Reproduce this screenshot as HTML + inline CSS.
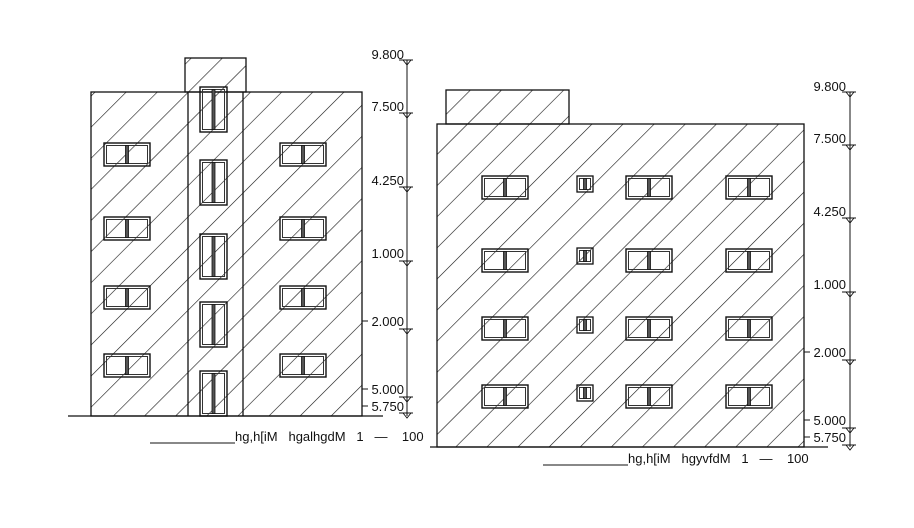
<!DOCTYPE html>
<html><head><meta charset="utf-8"><style>
html,body{margin:0;padding:0;background:#fff;}
svg{display:block}
text{font-family:"Liberation Sans",sans-serif;font-size:13px;fill:#111}
</style></head><body>
<svg width="914" height="528" viewBox="0 0 914 528" xmlns="http://www.w3.org/2000/svg">
<defs>
<pattern id="h" patternUnits="userSpaceOnUse" width="22" height="22" patternTransform="rotate(45)">
<line x1="0" y1="0" x2="0" y2="22" stroke="#111" stroke-width="1.2"/>
</pattern>
<g id="w">
<rect x="0" y="0" width="46" height="23" fill="none" stroke="#111" stroke-width="1.4"/>
<rect x="2.5" y="2.5" width="41" height="18" fill="none" stroke="#333" stroke-width="1"/>
<rect x="21.5" y="2.5" width="3" height="18" fill="#555" stroke="#111" stroke-width="0.8"/>
</g>
<g id="d">
<rect x="0" y="0" width="27" height="45" fill="none" stroke="#111" stroke-width="1.4"/>
<rect x="2.5" y="2.5" width="22" height="40" fill="none" stroke="#333" stroke-width="1"/>
<rect x="12" y="2.5" width="3" height="40" fill="#555" stroke="#111" stroke-width="0.8"/>
</g>
<g id="s">
<rect x="0" y="0" width="16" height="16" fill="none" stroke="#111" stroke-width="1.3"/>
<rect x="2.5" y="2.5" width="11" height="11" fill="none" stroke="#333"/>
<rect x="6.5" y="2.5" width="3" height="11" fill="#555" stroke="#111" stroke-width="0.8"/>
</g>
<g id="tk">
<line x1="-8" y1="0" x2="6" y2="0" stroke="#111"/>
<path d="M-4,0 L4,0 L0,5 Z" fill="none" stroke="#111" stroke-width="0.9"/>
</g>
</defs>

<!-- LEFT BUILDING -->
<g stroke="#111" stroke-width="1.3">
<rect x="185" y="58" width="61" height="34" fill="url(#h)"/>
<rect x="91" y="92" width="271" height="324" fill="url(#h)"/>
<line x1="188" y1="92" x2="188" y2="416"/>
<line x1="243" y1="92" x2="243" y2="416"/>
<line x1="68" y1="416" x2="383" y2="416"/>
</g>
<use href="#w" x="104" y="143"/><use href="#w" x="104" y="217"/><use href="#w" x="104" y="286"/><use href="#w" x="104" y="354"/>
<use href="#w" x="280" y="143"/><use href="#w" x="280" y="217"/><use href="#w" x="280" y="286"/><use href="#w" x="280" y="354"/>
<use href="#d" x="200" y="87"/><use href="#d" x="200" y="160"/><use href="#d" x="200" y="234"/><use href="#d" x="200" y="302"/>
<use href="#d" x="200" y="371"/>

<line x1="407" y1="60" x2="407" y2="416" stroke="#111"/>
<use href="#tk" x="407" y="60"/><use href="#tk" x="407" y="113"/><use href="#tk" x="407" y="187"/><use href="#tk" x="407" y="261"/>
<use href="#tk" x="407" y="329"/><use href="#tk" x="407" y="397"/><use href="#tk" x="407" y="413"/>
<line x1="362" y1="321" x2="368" y2="321" stroke="#111"/>
<line x1="362" y1="389" x2="368" y2="389" stroke="#111"/>
<line x1="362" y1="406" x2="368" y2="406" stroke="#111"/>
<g text-anchor="end">
<text x="404" y="59">9.800</text><text x="404" y="111">7.500</text><text x="404" y="185">4.250</text>
<text x="404" y="258">1.000</text><text x="404" y="326">2.000</text><text x="404" y="394">5.000</text><text x="404" y="411">5.750</text>
</g>
<line x1="150" y1="443" x2="235" y2="443" stroke="#111"/>
<text x="235" y="441" font-size="11" xml:space="preserve">hg,h[iM   hgalhgdM   1   —    100</text>

<!-- RIGHT BUILDING -->
<g stroke="#111" stroke-width="1.3">
<rect x="446" y="90" width="123" height="34" fill="url(#h)"/>
<rect x="437" y="124" width="367" height="323" fill="url(#h)"/>
<line x1="430" y1="447" x2="828" y2="447"/>
</g>
<use href="#w" x="482" y="176"/><use href="#w" x="626" y="176"/><use href="#w" x="726" y="176"/>
<use href="#w" x="482" y="249"/><use href="#w" x="626" y="249"/><use href="#w" x="726" y="249"/>
<use href="#w" x="482" y="317"/><use href="#w" x="626" y="317"/><use href="#w" x="726" y="317"/>
<use href="#w" x="482" y="385"/><use href="#w" x="626" y="385"/><use href="#w" x="726" y="385"/>
<use href="#s" x="577" y="176"/><use href="#s" x="577" y="248"/><use href="#s" x="577" y="317"/><use href="#s" x="577" y="385"/>

<line x1="850" y1="92" x2="850" y2="447" stroke="#111"/>
<use href="#tk" x="850" y="92"/><use href="#tk" x="850" y="145"/><use href="#tk" x="850" y="218"/><use href="#tk" x="850" y="292"/>
<use href="#tk" x="850" y="360"/><use href="#tk" x="850" y="428"/><use href="#tk" x="850" y="445"/>
<line x1="804" y1="352" x2="810" y2="352" stroke="#111"/>
<line x1="804" y1="420" x2="810" y2="420" stroke="#111"/>
<line x1="804" y1="437" x2="810" y2="437" stroke="#111"/>
<g text-anchor="end">
<text x="846" y="91">9.800</text><text x="846" y="143">7.500</text><text x="846" y="216">4.250</text>
<text x="846" y="289">1.000</text><text x="846" y="357">2.000</text><text x="846" y="425">5.000</text><text x="846" y="442">5.750</text>
</g>
<line x1="543" y1="465" x2="628" y2="465" stroke="#111"/>
<text x="628" y="463" font-size="11" xml:space="preserve">hg,h[iM   hgyvfdM   1   —    100</text>
</svg>
</body></html>
